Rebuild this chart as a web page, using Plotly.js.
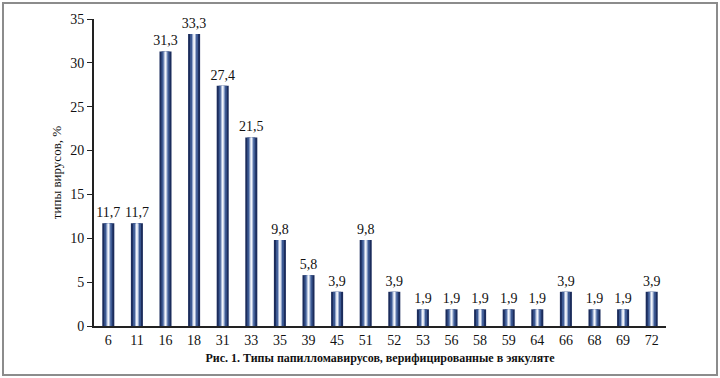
<!DOCTYPE html>
<html><head><meta charset="utf-8">
<script src="https://cdn.plot.ly/plotly-3.0.1.min.js"></script>
<style>
html,body{margin:0;padding:0;background:#fff;}
#wrap{position:relative;width:720px;height:378px;}
#chart{width:720px;height:378px;}
#frame{position:absolute;left:2px;top:2px;width:712px;height:370px;border:2px solid #8c8c8c;pointer-events:none;}
</style></head>
<body>
<div id="wrap"><div id="chart"></div><div id="frame"></div></div>
<script>
const categories = ["6","11","16","18","31","33","35","39","45","51","52","53","56","58","59","64","66","68","69","72"];
const values = [11.7,11.7,31.3,33.3,27.4,21.5,9.8,5.8,3.9,9.8,3.9,1.9,1.9,1.9,1.9,1.9,3.9,1.9,1.9,3.9];
const labels = values.map(v => v.toFixed(1).replace('.', ','));

const serif = "Liberation Serif, Times New Roman, serif";
const layers = [
  {w:0.42, c:"#1b2c5c"},
  {w:0.28, c:"#3d5a94"},
  {w:0.14, c:"#9fb0d2"},
  {w:0.06, c:"#f2f5fb"}
];
const traces = layers.map((L,i) => ({
  type:"bar", x:categories, y:values, width:L.w,
  marker:{color:L.c, line:{width:0}},
  text: i===0 ? labels : undefined,
  textposition: i===0 ? "outside" : "none",
  constraintext:"none",
  textfont:{family:serif, size:14, color:"#111"},
  cliponaxis:false, hoverinfo:"skip", showlegend:false
}));

const layout = {
  width:720, height:378,
  margin:{l:94, r:54, t:19, b:52},
  barmode:"overlay",
  paper_bgcolor:"#fff", plot_bgcolor:"#fff",
  xaxis:{
    type:"category", showline:true, linecolor:"#222", linewidth:2,
    ticks:"", tickfont:{family:serif, size:14, color:"#111"},
    showgrid:false, zeroline:false,
    title:{text:"<b>Рис. 1. Типы папилломавирусов, верифицированные в эякуляте</b>",
      font:{family:serif, size:12, color:"#111"}, standoff:7}
  },
  yaxis:{
    range:[0,35], dtick:5, showline:true, linecolor:"#222", linewidth:2,
    ticks:"outside", ticklen:5, tickcolor:"#222", tickwidth:1,
    tickfont:{family:serif, size:14, color:"#111"},
    showgrid:false, zeroline:false,
    title:{text:"типы вирусов, %", font:{family:serif, size:13, color:"#111"}, standoff:6}
  }
};
Plotly.newPlot("chart", traces, layout, {displayModeBar:false, staticPlot:true});
</script>
</body></html>
